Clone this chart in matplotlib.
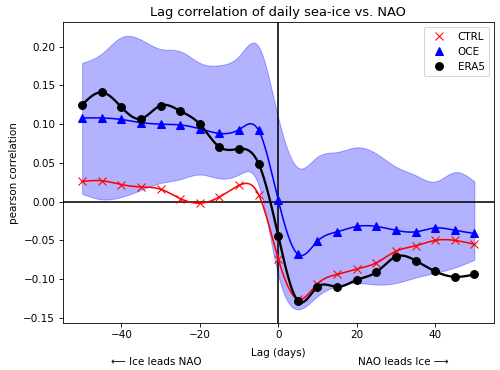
import numpy as np
import matplotlib
matplotlib.use("Agg")
import matplotlib.pyplot as plt
from matplotlib.lines import Line2D
from matplotlib.transforms import blended_transform_factory

lags = [-50, -45, -40, -35, -30, -25, -20, -15, -10, -5, 0,
        5, 10, 15, 20, 25, 30, 35, 40, 45, 50]

ctrl = [0.026, 0.027, 0.022, 0.019, 0.016, 0.004, -0.002, 0.006, 0.021, 0.009, -0.074,
        -0.126, -0.106, -0.094, -0.087, -0.079, -0.064, -0.057, -0.050, -0.050, -0.055]
oce = [0.108, 0.108, 0.106, 0.102, 0.100, 0.099, 0.094, 0.088, 0.093, 0.092, 0.002,
       -0.068, -0.051, -0.039, -0.032, -0.032, -0.037, -0.039, -0.034, -0.037, -0.041]
era5 = [0.125, 0.141, 0.122, 0.107, 0.124, 0.117, 0.100, 0.0705, 0.068, 0.049, -0.044,
        -0.128, -0.110, -0.110, -0.101, -0.091, -0.071, -0.076, -0.090, -0.097, -0.094]
band_hi = [0.179, 0.191, 0.212, 0.209, 0.197, 0.194, 0.179, 0.176, 0.188, 0.200, 0.108,
           0.044, 0.058, 0.064, 0.070, 0.062, 0.045, 0.034, 0.026, 0.038, 0.026]
band_lo = [0.010, 0.003, 0.006, 0.015, 0.024, 0.029, 0.035, 0.030, 0.035, 0.021, -0.095,
           -0.139, -0.122, -0.109, -0.105, -0.107, -0.105, -0.098, -0.092, -0.085, -0.075]


def spline(x, y, xs):
    x = np.asarray(x, float)
    y = np.asarray(y, float)
    n = len(x)
    h = np.diff(x)
    A = np.zeros((n, n))
    r = np.zeros(n)
    A[0, 0] = 1
    A[-1, -1] = 1
    for i in range(1, n - 1):
        A[i, i - 1] = h[i - 1]
        A[i, i] = 2 * (h[i - 1] + h[i])
        A[i, i + 1] = h[i]
        r[i] = 3 * ((y[i + 1] - y[i]) / h[i] - (y[i] - y[i - 1]) / h[i - 1])
    c = np.linalg.solve(A, r)
    b = (y[1:] - y[:-1]) / h - h * (2 * c[:-1] + c[1:]) / 3
    d = (c[1:] - c[:-1]) / (3 * h)
    idx = np.clip(np.searchsorted(x, xs) - 1, 0, n - 2)
    dx = xs - x[idx]
    return y[idx] + b[idx] * dx + c[idx] * dx ** 2 + d[idx] * dx ** 3


xs = np.linspace(lags[0], lags[-1], 500)

fig = plt.figure(figsize=(500 / 75, 370 / 75), dpi=75)
ax = fig.add_axes([0.125, 0.127, 0.863, 0.813])

ax.fill_between(xs, spline(lags, band_lo, xs), spline(lags, band_hi, xs),
                color="blue", alpha=0.3, lw=1)
ax.axhline(0, color="black", lw=1.5)
ax.axvline(0, color="black", lw=1.5)

ax.plot(xs, spline(lags, ctrl, xs), color="red", lw=1.5)
ax.plot(lags, ctrl, "x", color="red", ms=7)
ax.plot(xs, spline(lags, oce, xs), color="blue", lw=1.5)
ax.plot(lags, oce, "^", color="blue", ms=7)
ax.plot(xs, spline(lags, era5, xs), color="black", lw=2.2)
ax.plot(lags, era5, "o", color="black", ms=7.5)

ax.set_xlim(-55, 55)
ax.set_title("Lag correlation of daily sea-ice vs. NAO", fontsize=12.5)
ax.set_xlabel("Lag (days)", labelpad=7)
ax.set_ylabel("pearson correlation")

handles = [Line2D([], [], ls="none", marker="x", color="red", ms=7, label="CTRL"),
           Line2D([], [], ls="none", marker="^", color="blue", ms=7, label="OCE"),
           Line2D([], [], ls="none", marker="o", color="black", ms=7.5, label="ERA5")]
ax.legend(handles=handles, loc="upper right")

tr = blended_transform_factory(ax.transData, ax.transAxes)
ax.text(-31, -0.128, "\u27f5 Ice leads NAO", transform=tr, ha="center", va="center")
ax.text(32, -0.128, "NAO leads Ice \u27f6", transform=tr, ha="center", va="center")

fig.savefig("out.png", dpi=75)
